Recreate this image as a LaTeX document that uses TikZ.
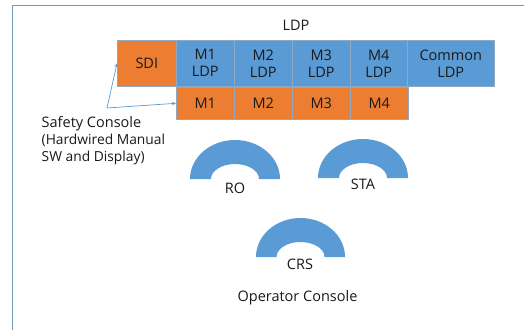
\documentclass[tikz,border=0pt]{standalone}
\usepackage{fontspec}
\setmainfont{Open Sans}
\usetikzlibrary{arrows.meta}
\definecolor{orng}{HTML}{ED7D31}
\definecolor{blu}{HTML}{5B9BD5}
\definecolor{frm}{HTML}{7097BE}
\definecolor{edg}{HTML}{8EA9C1}
\definecolor{txt}{HTML}{1A1A1A}
\tikzset{
  cell/.style={draw=edg, line width=0.6pt, inner sep=0pt, align=center, text=txt, font=\fontsize{14.5}{17}\selectfont, anchor=north west},
  ocell/.style={cell, fill=orng},
  bcell/.style={cell, fill=blu},
  lbl/.style={text=txt, inner sep=0pt, font=\fontsize{14.5}{17}\selectfont},
  link/.style={draw=blu, line width=0.7pt, -{Stealth[length=4pt,width=3.5pt]}},
  arcshape/.style={fill=blu, draw=none}
}
\begin{document}
\begin{tikzpicture}[x=1pt,y=-1pt]
\useasboundingbox (0,0) rectangle (524,330);
\fill[white] (0,0) rectangle (524,330);
% frame
\draw[frm, line width=1pt] (12.5,330) -- (12.5,5.5) -- (524,5.5);
% title
\node[lbl] (ldp) at (296,25) {LDP};
% top row
\node[ocell, minimum width=59pt, minimum height=46pt] (sdi) at (117,40) {SDI};
\node[bcell, minimum width=58pt, minimum height=46pt] (l1) at (176,40) {M1\\LDP};
\node[bcell, minimum width=58pt, minimum height=46pt] (l2) at (234,40) {M2\\LDP};
\node[bcell, minimum width=58pt, minimum height=46pt] (l3) at (292,40) {M3\\LDP};
\node[bcell, minimum width=57pt, minimum height=46pt] (l4) at (350,40) {M4\\LDP};
\node[bcell, minimum width=87pt, minimum height=46pt] (lc) at (407,40) {Common\\LDP};
% bottom row
\node[ocell, minimum width=58pt, minimum height=32pt] (m1) at (176,87) {M1};
\node[ocell, minimum width=58pt, minimum height=32pt] (m2) at (234,87) {M2};
\node[ocell, minimum width=58pt, minimum height=32pt] (m3) at (292,87) {M3};
\node[ocell, minimum width=58pt, minimum height=32pt] (m4) at (350,87) {M4};
% safety console
\node[lbl, anchor=west] (sc) at (41.5,124) {Safety Console};
\node[lbl, anchor=north west, align=left, font=\fontsize{13.8}{17}\selectfont] (scd) at (41.5,134) {(Hardwired Manual\\SW and Display)};
\coordinate (v) at (107,108);
\draw[link] (v) -- (sdi.west);
\draw[link] (v) -- (m1.west);
% arcs
\fill[arcshape] (190,179) arc[start angle=180, end angle=360, x radius=45, y radius=39] -- (259,179) arc[start angle=0, end angle=-180, x radius=24, y radius=15] -- cycle;
\node[lbl] (ro) at (235,188) {RO};
\fill[arcshape] (318,178) arc[start angle=180, end angle=360, x radius=45, y radius=39] -- (387,178) arc[start angle=0, end angle=-180, x radius=24, y radius=15] -- cycle;
\node[lbl] (sta) at (363,184) {STA};
\fill[arcshape] (256,257) arc[start angle=180, end angle=360, x radius=44.5, y radius=39] -- (324.5,257) arc[start angle=0, end angle=-180, x radius=24, y radius=15] -- cycle;
\node[lbl] (crs) at (300,264) {CRS};
\node[lbl] (oc) at (297.5,298) {Operator Console};
\end{tikzpicture}
\end{document}
